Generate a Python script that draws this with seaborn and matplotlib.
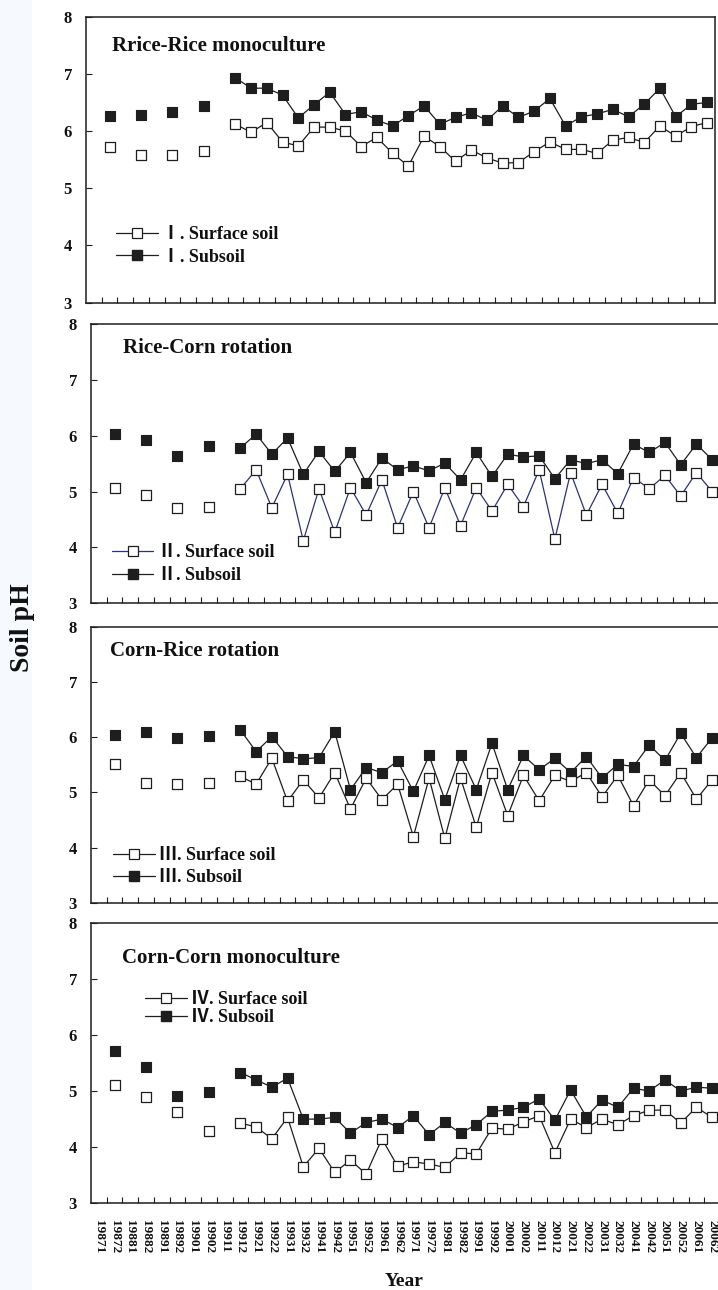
import numpy as np
import pandas as pd
import matplotlib
matplotlib.use("Agg")
import matplotlib.pyplot as plt
from matplotlib.lines import Line2D
from matplotlib.patches import Rectangle
import seaborn as sns

# ---- data -------------------------------------------------------------
years = list(range(1987, 2007))
tick_labels = [f"{y}{h}" for y in years for h in (1, 2)]

early_pos = [1, 3, 5, 7]           # annual samples, 1987-1990
series_pos = list(range(9, 40))    # half-yearly samples, 1991(2)-2006(2)

rice_rice_surface_early = [5.73, 5.58, 5.58, 5.66]
rice_rice_subsoil_early = [6.27, 6.29, 6.34, 6.44]
rice_rice_surface = [6.12, 5.98, 6.15, 5.81, 5.74, 6.07, 6.07, 6.00, 5.73, 5.89, 5.61, 5.39,
                     5.91, 5.73, 5.47, 5.67, 5.53, 5.44, 5.45, 5.64, 5.81, 5.68, 5.68, 5.61,
                     5.84, 5.89, 5.80, 6.09, 5.91, 6.08, 6.15]
rice_rice_subsoil = [6.93, 6.75, 6.75, 6.63, 6.23, 6.46, 6.68, 6.29, 6.34, 6.19, 6.09, 6.27,
                     6.44, 6.12, 6.24, 6.32, 6.19, 6.44, 6.24, 6.35, 6.57, 6.09, 6.25, 6.30,
                     6.38, 6.25, 6.47, 6.75, 6.25, 6.47, 6.50]

rice_corn_surface_early = [5.07, 4.94, 4.71, 4.73]
rice_corn_subsoil_early = [6.03, 5.92, 5.64, 5.81]
rice_corn_surface = [5.05, 5.39, 4.71, 5.31, 4.12, 5.05, 4.27, 5.07, 4.58, 5.21, 4.35, 5.00,
                     4.35, 5.07, 4.39, 5.07, 4.65, 5.13, 4.73, 5.39, 4.15, 5.34, 4.58, 5.13,
                     4.61, 5.25, 5.05, 5.29, 4.92, 5.34, 5.00]
rice_corn_subsoil = [5.78, 6.03, 5.67, 5.96, 5.31, 5.72, 5.36, 5.70, 5.16, 5.60, 5.39, 5.46,
                     5.37, 5.51, 5.21, 5.70, 5.27, 5.67, 5.62, 5.64, 5.23, 5.57, 5.50, 5.57,
                     5.32, 5.85, 5.70, 5.88, 5.48, 5.85, 5.57]

corn_rice_surface_early = [5.52, 5.17, 5.16, 5.18]
corn_rice_subsoil_early = [6.04, 6.10, 5.99, 6.02]
corn_rice_surface = [5.29, 5.15, 5.62, 4.84, 5.23, 4.90, 5.36, 4.70, 5.26, 4.87, 5.15, 4.20,
                     5.26, 4.17, 5.26, 4.37, 5.36, 4.58, 5.31, 4.85, 5.31, 5.20, 5.36, 4.92,
                     5.31, 4.76, 5.23, 4.94, 5.36, 4.88, 5.23]
corn_rice_subsoil = [6.13, 5.74, 6.01, 5.65, 5.61, 5.63, 6.10, 5.05, 5.45, 5.36, 5.57, 5.02,
                     5.67, 4.87, 5.67, 5.05, 5.89, 5.05, 5.67, 5.41, 5.62, 5.36, 5.65, 5.26,
                     5.51, 5.47, 5.86, 5.58, 6.07, 5.63, 5.99]

corn_corn_surface_early = [5.11, 4.89, 4.63, 4.28]
corn_corn_subsoil_early = [5.72, 5.42, 4.92, 4.98]
corn_corn_surface = [4.43, 4.36, 4.15, 4.53, 3.65, 3.98, 3.55, 3.77, 3.52, 4.15, 3.66, 3.74,
                     3.70, 3.64, 3.90, 3.88, 4.34, 4.32, 4.45, 4.56, 3.90, 4.50, 4.35, 4.50,
                     4.40, 4.56, 4.66, 4.66, 4.43, 4.71, 4.53]
corn_corn_subsoil = [5.33, 5.20, 5.07, 5.23, 4.50, 4.50, 4.53, 4.25, 4.44, 4.50, 4.35, 4.56,
                     4.22, 4.44, 4.25, 4.40, 4.64, 4.66, 4.71, 4.86, 4.48, 5.02, 4.54, 4.84,
                     4.71, 5.05, 5.00, 5.20, 5.00, 5.07, 5.05]

titles = ["Rrice-Rice monoculture", "Rice-Corn rotation", "Corn-Rice rotation",
          "Corn-Corn monoculture"]
numerals = ["Ⅰ", "Ⅱ", "Ⅲ", "Ⅳ"]

# ---- style ------------------------------------------------------------
sns.set_theme(style="white")
plt.rcParams["font.family"] = ["Liberation Serif", "Noto Sans CJK SC", "DejaVu Sans"]
plt.rcParams["font.weight"] = "bold"

INK = "#1e1e1e"
NAVY = "#2b3378"
MS = 7
LW = 0.9

W, H = 718, 1290
fig = plt.figure(figsize=(W / 100, H / 100), dpi=100)
fig.patch.set_facecolor("white")
# faint tinted strip along the left margin
fig.patches.append(Rectangle((0, 0), 32 / W, 1, transform=fig.transFigure,
                             facecolor="#f6f9fd", edgecolor="none", zorder=0))


def panel_axes(left, top, right, bottom):
    return fig.add_axes([left / W, 1 - bottom / H, (right - left) / W, (bottom - top) / H])


boxes = [(86, 16.7, 715, 302.7), (91, 324, 720, 603.3),
         (91, 626.7, 720, 903), (91, 922.7, 720, 1203.3)]
title_pos = [(0.041, 0.881), (0.051, 0.895), (0.030, 0.895), (0.049, 0.857)]
legend_pos = [(0.0477, 0.198), (0.033, 0.140), (0.035, 0.1325), (0.086, 0.693)]
legend_gap = [0.30, 0.30, 0.28, 0.06]
surface_colors = [INK, NAVY, INK, INK]

data = [
    (rice_rice_surface_early, rice_rice_subsoil_early, rice_rice_surface, rice_rice_subsoil),
    (rice_corn_surface_early, rice_corn_subsoil_early, rice_corn_surface, rice_corn_subsoil),
    (corn_rice_surface_early, corn_rice_subsoil_early, corn_rice_surface, corn_rice_subsoil),
    (corn_corn_surface_early, corn_corn_subsoil_early, corn_corn_surface, corn_corn_subsoil),
]

for k, (box, (s_early, b_early, s_line, b_line)) in enumerate(zip(boxes, data)):
    ax = panel_axes(*box)
    ax.set_facecolor("white")
    sc = surface_colors[k]

    early = pd.DataFrame({"pos": early_pos, "surface": s_early, "subsoil": b_early})
    later = pd.DataFrame({"pos": series_pos, "surface": s_line, "subsoil": b_line})

    # subsoil (filled squares) first, surface (open squares) on top
    sns.scatterplot(data=early, x="pos", y="subsoil", ax=ax, marker="s", s=MS ** 2,
                    color=INK, edgecolor=INK, linewidth=0.8, zorder=3)
    sns.lineplot(data=later, x="pos", y="subsoil", ax=ax, color=INK, lw=LW,
                 marker="s", markersize=MS, markerfacecolor=INK, markeredgecolor=INK,
                 markeredgewidth=0.8, zorder=3)
    sns.scatterplot(data=early, x="pos", y="surface", ax=ax, marker="s", s=MS ** 2,
                    color="white", edgecolor=INK, linewidth=0.9, zorder=4)
    sns.lineplot(data=later, x="pos", y="surface", ax=ax, color=sc, lw=LW,
                 marker="s", markersize=MS, markerfacecolor="white", markeredgecolor=INK,
                 markeredgewidth=0.9, zorder=4)

    ax.set_xlim(-0.5, 39.5)
    ax.set_ylim(3, 8)
    ax.set_xlabel("")
    ax.set_ylabel("")

    ax.set_yticks([3, 4, 5, 6, 7, 8])
    ax.set_yticklabels(["3", "4", "5", "6", "7", "8"], fontsize=12, fontweight="bold",
                       family="Liberation Serif")
    ax.tick_params(axis="y", direction="in", length=4, width=0.8, color=INK, pad=10,
                   left=True, labelcolor="#111111")

    ax.set_xticks(range(len(tick_labels)))
    ax.set_xticks(np.arange(0.5, 39.5, 1.0), minor=True)
    ax.tick_params(axis="x", which="major", length=0, bottom=True)
    ax.tick_params(axis="x", which="minor", direction="in", length=4, width=0.8,
                   color=INK, bottom=True)
    if k == 3:
        ax.set_xticklabels(tick_labels, rotation=-90, fontsize=9.5, fontweight="bold",
                           family="Liberation Serif", color="#111111")
        ax.tick_params(axis="x", which="major", pad=12)
    else:
        ax.set_xticklabels([])

    for sp in ax.spines.values():
        sp.set_visible(True)
        sp.set_color(INK)
        sp.set_linewidth(1.1)

    tx, ty = title_pos[k]
    ax.text(tx, ty, titles[k], transform=ax.transAxes, ha="left", va="baseline",
            fontsize=15, fontweight="bold", color="#111111")

    handles = [
        Line2D([], [], color=sc, lw=LW, marker="s", markersize=MS,
               markerfacecolor="white", markeredgecolor=INK, markeredgewidth=0.9),
        Line2D([], [], color=INK, lw=LW, marker="s", markersize=MS,
               markerfacecolor=INK, markeredgecolor=INK),
    ]
    labels = [f"{numerals[k]}. Surface soil", f"{numerals[k]}. Subsoil"]
    lx, ly = legend_pos[k]
    leg = ax.legend(handles, labels, loc="center left", bbox_to_anchor=(lx, ly),
                    frameon=False, borderpad=0, borderaxespad=0, handlelength=2.3,
                    handletextpad=0.25, labelspacing=legend_gap[k],
                    prop={"size": 13, "weight": "bold"})
    for t in leg.get_texts():
        t.set_color("#111111")

fig.text(22.5 / W, 1 - 628 / H, "Soil pH", rotation=90, ha="center", va="center",
         fontsize=20, fontweight="bold", color="#111111")
fig.text(404 / W, 1 - 1286 / H, "Year", ha="center", va="baseline",
         fontsize=14, fontweight="bold", color="#111111")

fig.savefig("out.png", dpi=100, facecolor=fig.get_facecolor())
